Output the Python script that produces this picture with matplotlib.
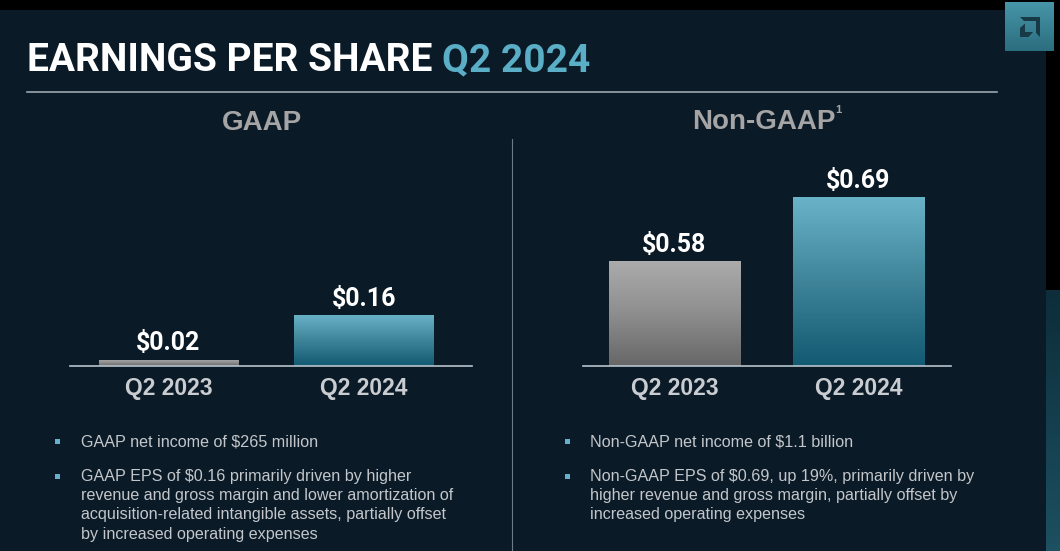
import numpy as np
import matplotlib.pyplot as plt
from matplotlib.patches import Rectangle, Polygon
from matplotlib.colors import LinearSegmentedColormap

W, H = 1060, 551

periods = ['Q2 2023', 'Q2 2024']
gaap_eps = [0.02, 0.16]
non_gaap_eps = [0.58, 0.69]

gaap_notes = [
    'GAAP net income of $265 million',
    'GAAP EPS of $0.16 primarily driven by higher\n'
    'revenue and gross margin and lower amortization of\n'
    'acquisition-related intangible assets, partially offset\n'
    'by increased operating expenses',
]
non_gaap_notes = [
    'Non-GAAP net income of $1.1 billion',
    'Non-GAAP EPS of $0.69, up 19%, primarily driven by\n'
    'higher revenue and gross margin, partially offset by\n'
    'increased operating expenses',
]

NARROW = ['Roboto', 'Liberation Sans', 'DejaVu Sans']
SANS = ['Liberation Sans', 'DejaVu Sans']

SLIDE_BG = '#0b1a27'
TEAL_TXT = '#5aaec6'
GREY_CMAP = LinearSegmentedColormap.from_list('g', ['#676767', '#8e8e8e', '#ababab'])
TEAL_CMAP = LinearSegmentedColormap.from_list('t', ['#125a72', '#3f8499', '#69b3c9'])


def px(x, y):
    return x / W, 1 - y / H


fig = plt.figure(figsize=(W / 100, H / 100), dpi=100, facecolor='black')

# background / decoration, in pixel coordinates
bg = fig.add_axes([0, 0, 1, 1], zorder=0)
bg.axis('off')
bg.add_patch(Rectangle((0, 10), 1046, H - 10, color=SLIDE_BG, lw=0, zorder=0.5))
bg.imshow(np.linspace(0, 1, 64).reshape(-1, 1), extent=[1046, W, H, 290], aspect='auto',
          cmap=LinearSegmentedColormap.from_list('s', ['#0d2d3a', '#1d5061']), zorder=1)
bg.imshow(np.linspace(0, 1, 64).reshape(-1, 1), extent=[1005, 1054, 51, 2], aspect='auto',
          cmap=LinearSegmentedColormap.from_list('l', ['#4795a8', '#2b6e7f']), zorder=1)
logo_pts = [[(1020, 17), (1040, 17), (1040, 37), (1036, 33), (1036, 21), (1024, 21)],
            [(1020, 37), (1020, 28), (1025, 23.5), (1025, 32), (1033, 32), (1028.5, 37)]]
for pts in logo_pts:
    bg.add_patch(Polygon(pts, color='#173a46', lw=0, zorder=2))
bg.set_xlim(0, W)
bg.set_ylim(H, 0)

bg.plot([27, 997], [92, 92], color='#9aa7b0', lw=1.2, zorder=2)
bg.plot([512, 512], [139, H], color='#6d7b86', lw=0.8, zorder=2)

t1 = bg.text(27, 71, 'EARNINGS PER SHARE ', color='white', fontsize=28,
             fontweight='bold', family=NARROW, va='baseline', ha='left')
fig.canvas.draw()
x_end = bg.transData.inverted().transform((t1.get_window_extent().x1, 0))[0]
bg.text(x_end, 71, 'Q2 2024', color=TEAL_TXT, fontsize=28, fontweight='bold',
        family=NARROW, va='baseline', ha='left')

bg.text(262, 130, 'GAAP', color='#a5a5a5', fontsize=20, fontweight='bold',
        family=SANS, ha='center', va='baseline')
h2 = bg.text(764, 129, 'Non-GAAP', color='#a5a5a5', fontsize=20, fontweight='bold',
             family=SANS, ha='center', va='baseline')
fig.canvas.draw()
sx = bg.transData.inverted().transform((h2.get_window_extent().x1, 0))[0]
bg.text(sx, 113, '1', color='#a5a5a5', fontsize=8, fontweight='bold',
        family=SANS, ha='left', va='baseline')

# bullet notes
for x_b, x_t, notes in [(57, 81, gaap_notes), (567, 590, non_gaap_notes)]:
    for y_top, note in zip([434, 469], notes):
        bg.add_patch(Rectangle((x_b - 2.5, y_top + 5), 5, 5, color='#66b0cc', lw=0, zorder=2))
        bg.text(x_t, y_top, note, color='#c3c7cb', fontsize=11.6, family=SANS,
                ha='left', va='top', linespacing=1.35, parse_math=False)


def eps_chart(rect, values, ybottom, px_per_dollar, xlim):
    ax = fig.add_axes(rect, zorder=2)
    ax.patch.set_alpha(0)
    bars = ax.bar(range(len(values)), values, width=0.714, color='none', lw=0)
    for i, (bar, v) in enumerate(zip(bars, values)):
        cmap = GREY_CMAP if i == 0 else TEAL_CMAP
        x0 = bar.get_x()
        im = ax.imshow(np.linspace(0, 1, 128).reshape(-1, 1), cmap=cmap, origin='lower',
                       extent=[x0, x0 + bar.get_width(), max(ybottom, 0), v], aspect='auto')
        im.set_clip_path(bar)
        ax.annotate(f'${v:.2f}', (i, v), xytext=(0, 3), textcoords='offset points',
                    ha='center', va='bottom', color='white', fontsize=18,
                    fontweight='bold', family=NARROW, parse_math=False)
    ax.set_xlim(*xlim)
    ax.set_ylim(ybottom, ybottom + 216 / px_per_dollar)
    for s in ['top', 'left', 'right']:
        ax.spines[s].set_visible(False)
    ax.spines['bottom'].set_color('#b9c4cc')
    ax.spines['bottom'].set_linewidth(1.2)
    ax.set_yticks([])
    ax.set_xticks(range(len(periods)), periods)
    ax.tick_params(axis='x', length=0, pad=8, labelsize=16.5, labelcolor='#c9cdd1')
    for lab in ax.get_xticklabels():
        lab.set_fontweight('bold')
        lab.set_family(SANS)
    return ax


l, b = px(70, 366)
eps_chart([l, b, 402 / W, 216 / H], gaap_eps, 0.0, 319, (-0.504, 1.552))
l, b = px(583, 366)
eps_chart([l, b, 368 / W, 216 / H], non_gaap_eps, 0.40, 583, (-0.497, 1.503))

fig.savefig('out.png', dpi=100, facecolor='black')
